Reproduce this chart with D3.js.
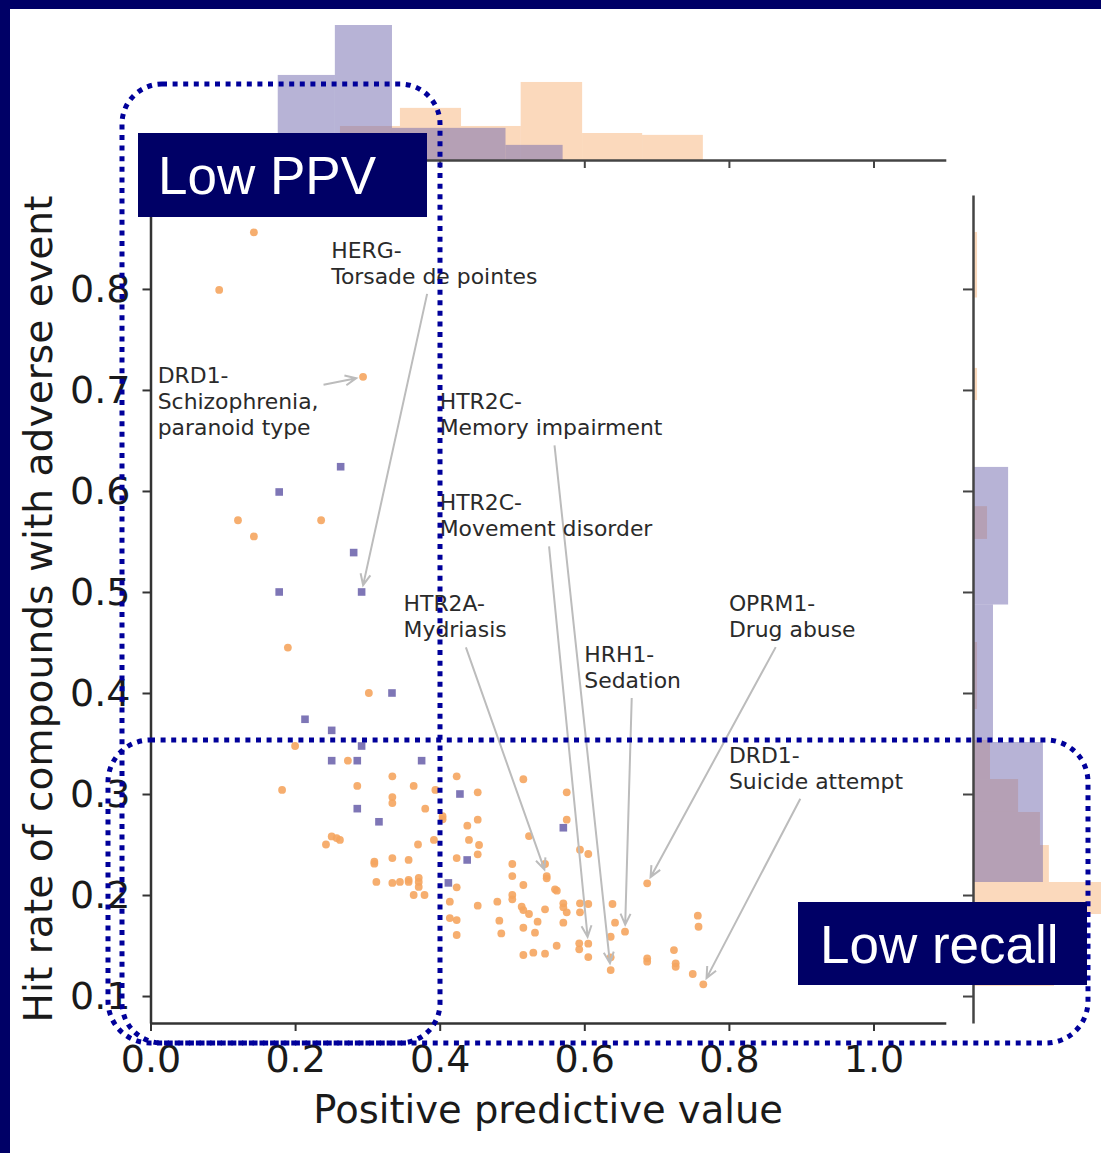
<!DOCTYPE html>
<html><head><meta charset="utf-8">
<script src="https://cdn.jsdelivr.net/npm/d3@7"></script>
<style>body{margin:0;background:#fff} svg{display:block}</style>
</head><body>
<svg id="c" width="1101" height="1153"></svg>
<script>
// ---------------- data ----------------
const orangePPV = [0.143,0.095,0.294,0.121,0.236,0.143,0.19,
  0.302,0.200,0.273,0.3345,0.182,0.286,0.364,0.394,0.4235,0.3345,0.3345,0.380,0.404,0.404,
  0.2506,0.2575,0.262,0.2427,0.370,0.392,0.4235,0.3096,0.3096,0.3345,0.357,0.3124,0.3345,0.345,
  0.357,0.357,0.371,0.371,0.371,0.364,0.379,0.4235,0.414,0.414,0.4235,0.4235,
  0.5157,0.4526,0.5757,0.4526,0.5757,0.4382,0.4405,0.4544,0.4526,0.5235,0.594,0.6055,0.5004,0.5457,
  0.5004,0.548,0.548,0.5157,0.5595,0.562,0.5004,0.5004,0.4526,0.4797,0.5134,0.5157,0.5235,0.5457,
  0.571,0.571,0.5757,0.594,0.6055,0.594,0.639,0.4825,0.5354,0.5157,0.5318,0.571,0.6425,0.4852,
  0.6563,0.6365,0.5618,0.593,0.593,0.6055,0.5157,0.5295,0.5457,0.6055,0.6365,0.6365,
  0.687,0.757,0.758,0.724,0.687,0.687,0.7264,0.7264,0.750,0.7646];
const orangeHit = [0.856,0.799,0.713,0.571,0.571,0.555,0.445,
  0.400,0.3475,0.333,0.3175,0.304,0.308,0.308,0.304,0.3175,0.297,0.291,0.2855,0.278,0.275,
  0.258,0.2564,0.2545,0.250,0.250,0.2545,0.2366,0.233,0.231,0.2366,0.2347,0.213,0.212,0.213,
  0.215,0.213,0.217,0.213,0.208,0.200,0.200,0.2076,0.1934,0.1772,0.1752,0.1604,
  0.3146,0.3017,0.3017,0.2746,0.2746,0.2686,0.2545,0.2495,0.2403,0.2584,0.2449,0.2406,0.2307,0.2307,
  0.2188,0.2188,0.2165,0.2099,0.2056,0.2043,0.200,0.1957,0.1894,0.1934,0.1884,0.1851,0.1812,0.1858,
  0.1918,0.1878,0.1829,0.1918,0.1911,0.1829,0.1911,0.1746,0.1736,0.1676,0.1627,0.1726,0.1726,0.162,
  0.1637,0.1587,0.1498,0.1522,0.1462,0.1518,0.1406,0.1429,0.1419,0.1386,0.1383,0.1257,
  0.2116,0.1795,0.1686,0.1455,0.1373,0.134,0.1324,0.129,0.1218,0.1116];

const purplePPV = [0.263,0.178,0.281,0.178,0.292,0.334,0.2137,0.2506,0.292,0.2506,0.286,0.375,0.286,0.316,0.412,0.428,0.438,0.571];
const purpleHit = [0.624,0.599,0.539,0.500,0.500,0.400,0.374,0.363,0.3475,0.333,0.333,0.333,0.2855,0.2725,0.212,0.300,0.2347,0.2666];

// marginal histograms (density, arbitrary units)
const topOrangeEdges   = [0.262,0.345,0.4295,0.512,0.597,0.680,0.764];
const topOrangeDensity = [1.26,1.93,1.26,2.89,1.0,0.93];
const topPurpleEdges   = [0.176,0.255,0.334,0.413,0.491,0.570];
const topPurpleDensity = [3.15,5.0,1.19,1.19,0.56];

const rightOrangeLo      = [0.7915,0.690,0.5525,0.3842,0.3148,0.2822,0.2495,0.2129,0.1812,0.1485,0.110];
const rightOrangeHi      = [0.8564,0.7218,0.585,0.4505,0.3535,0.3148,0.2822,0.2495,0.2129,0.1812,0.1485];
const rightOrangeDensity = [0.15,0.15,0.52,0.15,0.63,1.67,2.48,2.81,5.4,3.5,3.0];
const rightPurpleEdges   = [0.2129,0.3515,0.4876,0.6238];
const rightPurpleDensity = [2.59,0.74,1.30];

const xTicks = [0.0,0.2,0.4,0.6,0.8,1.0];
const yTicks = [0.1,0.2,0.3,0.4,0.5,0.6,0.7,0.8];

const annLines = [["DRD1-","Schizophrenia,","paranoid type"],["HERG-","Torsade de pointes"],
  ["HTR2C-","Memory impairment"],["HTR2C-","Movement disorder"],["HTR2A-","Mydriasis"],
  ["HRH1-","Sedation"],["OPRM1-","Drug abuse"],["DRD1-","Suicide attempt"]];
const annTextPPV = [0.01,0.25,0.40,0.40,0.35,0.60,0.80,0.80];
const annTextHit = [0.65,0.80,0.65,0.55,0.45,0.40,0.45,0.30];
const annTargetPPV = [0.294,0.292,0.6365,0.6055,0.548,0.6563,0.687,0.7646];
const annTargetHit = [0.713,0.500,0.1257,0.1518,0.2188,0.1637,0.2116,0.1116];

const xLabel = "Positive predictive value";
const yLabel = "Hit rate of compounds with adverse event";
const boxLabels = ["Low PPV","Low recall"];

// ---------------- drawing ----------------
const svg = d3.select("#c");
const FONT = "DejaVu Sans";
const orangeC = "#f5a55f", purpleC = "#7067ae";
const navy = "#000066", dotNavy = "#00009a";

const x = d3.scaleLinear([0,1.1],[150.5,945.8]);
const y = d3.scaleLinear([0.0733,0.893],[1023,195]);
const hTop = d3.scaleLinear([0,5],[160,25]);
const wRight = d3.scaleLinear([0,5],[973,1108]);

// top histogram
const gTop = svg.append("g");
gTop.selectAll("rect.o").data(topOrangeDensity).join("rect")
  .attr("x",(d,i)=>x(topOrangeEdges[i])).attr("width",(d,i)=>x(topOrangeEdges[i+1])-x(topOrangeEdges[i]))
  .attr("y",d=>hTop(d)).attr("height",d=>hTop(0)-hTop(d))
  .attr("fill",orangeC).attr("fill-opacity",0.42);
gTop.selectAll("rect.p").data(topPurpleDensity).join("rect")
  .attr("x",(d,i)=>x(topPurpleEdges[i])).attr("width",(d,i)=>x(topPurpleEdges[i+1])-x(topPurpleEdges[i]))
  .attr("y",d=>hTop(d)).attr("height",d=>hTop(0)-hTop(d))
  .attr("fill",purpleC).attr("fill-opacity",0.5);

// right histogram
const gRight = svg.append("g");
gRight.selectAll("rect.o").data(rightOrangeDensity).join("rect")
  .attr("y",(d,i)=>y(rightOrangeHi[i])).attr("height",(d,i)=>y(rightOrangeLo[i])-y(rightOrangeHi[i]))
  .attr("x",wRight(0)).attr("width",d=>wRight(d)-wRight(0))
  .attr("fill",orangeC).attr("fill-opacity",0.42);
gRight.selectAll("rect.p").data(rightPurpleDensity).join("rect")
  .attr("y",(d,i)=>y(rightPurpleEdges[i+1])).attr("height",(d,i)=>y(rightPurpleEdges[i])-y(rightPurpleEdges[i+1]))
  .attr("x",wRight(0)).attr("width",d=>wRight(d)-wRight(0))
  .attr("fill",purpleC).attr("fill-opacity",0.5);

function styleAxis(g, col, w){
  g.select(".domain").attr("stroke",col).attr("stroke-width",w);
  g.selectAll(".tick line").attr("stroke",col).attr("stroke-width",2);
  g.selectAll(".tick text").attr("fill","#1a1a1a").style("font-family",FONT).style("font-size","38px");
}
// marginal axes
const axTop = svg.append("g").attr("transform","translate(0,160)")
  .call(d3.axisBottom(x).tickValues(xTicks).tickSize(8).tickSizeOuter(0).tickFormat(""));
styleAxis(axTop,"#444",2.5);
const axRight = svg.append("g").attr("transform","translate(973,0)")
  .call(d3.axisLeft(y).tickValues(yTicks).tickSize(10).tickSizeOuter(0).tickFormat(""));
styleAxis(axRight,"#444",2.5);

// main axes
const axX = svg.append("g").attr("transform","translate(0,1023)")
  .call(d3.axisBottom(x).tickValues(xTicks).tickSize(8).tickPadding(14).tickSizeOuter(0).tickFormat(d3.format(".1f")));
styleAxis(axX,"#333",2.5);
const axY = svg.append("g").attr("transform","translate(150.5,0)")
  .call(d3.axisLeft(y).tickValues(yTicks).tickSize(8).tickPadding(12).tickSizeOuter(0).tickFormat(d3.format(".1f")));
styleAxis(axY,"#333",2.5);

svg.append("text").attr("x",(x(0)+x(1.1))/2).attr("y",1123).attr("text-anchor","middle")
  .style("font-family",FONT).style("font-size","38.5px").attr("fill","#1a1a1a").text(xLabel);
svg.append("text").attr("transform",`translate(52,${(y(0.0733)+y(0.893))/2}) rotate(-90)`).attr("text-anchor","middle")
  .style("font-family",FONT).style("font-size","39.2px").attr("fill","#1a1a1a").text(yLabel);

// scatter
svg.append("g").selectAll("circle").data(orangePPV).join("circle")
  .attr("cx",d=>x(d)).attr("cy",(d,i)=>y(orangeHit[i])).attr("r",3.9)
  .attr("fill",orangeC).attr("fill-opacity",0.9);
svg.append("g").selectAll("rect").data(purplePPV).join("rect")
  .attr("x",d=>x(d)-3.8).attr("y",(d,i)=>y(purpleHit[i])-3.8).attr("width",7.6).attr("height",7.6)
  .attr("fill",purpleC).attr("fill-opacity",0.9);

// annotations
const annG = svg.append("g");
annLines.forEach((lines,k)=>{
  const g = annG.append("g");
  const bx = x(annTextPPV[k]), by = y(annTextHit[k]);
  const n = lines.length;
  lines.forEach((l,i)=>g.append("text").attr("x",bx).attr("y",by-5-(n-1-i)*26.4)
    .style("font-family",FONT).style("font-size","21.9px").attr("fill","#2a2a2a").text(l));
  const bb = g.node().getBBox();
  const x0=bb.x-2, x1=bb.x+bb.width+2, y0=bb.y-2, y1=by+2;
  const cx=(x0+x1)/2, cy=(y0+y1)/2;
  const tx = x(annTargetPPV[k]), ty = y(annTargetHit[k]);
  const dx = tx-cx, dy = ty-cy, len=Math.hypot(dx,dy), ux=dx/len, uy=dy/len;
  const sx = dx>0?(x1-cx)/dx:dx<0?(x0-cx)/dx:Infinity;
  const sy = dy>0?(y1-cy)/dy:dy<0?(y0-cy)/dy:Infinity;
  const s = Math.min(sx,sy);
  const ax0 = cx+s*dx+ux*3, ay0 = cy+s*dy+uy*3;
  const ex = tx-ux*7, ey = ty-uy*7;
  const L=11, W=5;
  const px=-uy, py=ux;
  annG.append("path")
    .attr("d",`M${ax0},${ay0}L${ex},${ey}M${ex-ux*L+px*W},${ey-uy*L+py*W}L${ex},${ey}L${ex-ux*L-px*W},${ey-uy*L-py*W}`)
    .attr("fill","none").attr("stroke","#bcbcbc").attr("stroke-width",2);
});

// dotted highlight outlines
const dotG = svg.append("g").attr("fill","none").attr("stroke",dotNavy)
  .attr("stroke-width",5).attr("stroke-dasharray","5 5.6");
dotG.append("rect").attr("x",122).attr("y",84).attr("width",440-122).attr("height",1043-84).attr("rx",40);
dotG.append("rect").attr("x",108).attr("y",740).attr("width",1088-108).attr("height",1043-740).attr("rx",42);

// label boxes
const boxes = [[138,133,289,84],[798,902,289,83]];
const boxTextX = [158,820];
boxes.forEach((b,i)=>{
  svg.append("rect").attr("x",b[0]).attr("y",b[1]).attr("width",b[2]).attr("height",b[3]).attr("fill",navy);
  svg.append("text").attr("x",boxTextX[i]).attr("y",b[1]+b[3]/2+19).attr("text-anchor","start")
    .style("font-family","Liberation Sans").style("font-size","53px").attr("fill","#fff").text(boxLabels[i]);
});

// frame
svg.append("rect").attr("x",0).attr("y",0).attr("width",1101).attr("height",9).attr("fill",navy);
svg.append("rect").attr("x",0).attr("y",0).attr("width",10).attr("height",1153).attr("fill",navy);
</script>
</body></html>
